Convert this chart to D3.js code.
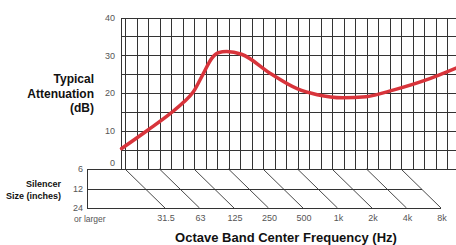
<!DOCTYPE html>
<html>
<head>
<meta charset="utf-8">
<script src="https://cdn.jsdelivr.net/npm/d3@7"></script>
<style>
  body { margin: 0; background: #fff; }
  svg { display: block; font-family: "Liberation Sans", Arial, sans-serif; }
</style>
</head>
<body>
<div id="main"></div>
<script>
var bandLabels = ['31.5', '63', '125', '250', '500', '1k', '2k', '4k', '8k'];
var dbTicks = [0, 10, 20, 30, 40];
var dbGrid = [0, 5, 10, 15, 20, 25, 30, 35, 40];
var sizeLabels = ['6', '12', '24'];
// red curve (Hz, dB)
var curveHz = [29.4, 50, 78, 102, 124, 152, 180, 205, 243, 327, 600, 1000, 1500, 2500, 4000, 7000, 13000, 25000];
var curveDb = [5.4, 10.3, 14.6, 17.6, 20.3, 25.2, 29.2, 30.7, 31, 30.3, 25, 21.2, 19.6, 18.8, 19.1, 20.9, 23.4, 26.8];

var width = 456, height = 245;
var plot = {left: 121, top: 17.5, right: 460, bottom: 169};
var table = {left: 87, rows: [169, 189, 208], slant: 40};

var svg = d3.select('#main').append('svg')
    .attr('width', width)
    .attr('height', height);

var x = d3.scaleLog().base(2)
    .domain([31.5, 31.5 * 256])
    .range([125, 401]);
var y = d3.scaleLinear()
    .domain([0, 40])
    .range([plot.bottom, plot.top]);

var gridColor = '#333';
var bandHz = bandLabels.map((d, i) => 31.5 * Math.pow(2, i));
var thirdHz = d3.range(0, 29).map(k => 31.5 * Math.pow(2, k / 3));

var grid = svg.append('g').attr('class', 'grid')
    .attr('stroke', gridColor)
    .attr('stroke-width', 1)
    .attr('shape-rendering', 'crispEdges');

grid.selectAll('line.v')
    .data(thirdHz)
    .enter().append('line')
    .attr('class', 'v')
    .attr('x1', d => Math.round(x(d)) + 0.5)
    .attr('x2', d => Math.round(x(d)) + 0.5)
    .attr('y1', plot.top)
    .attr('y2', plot.bottom);

grid.append('line')
    .attr('x1', plot.left + 0.5).attr('x2', plot.left + 0.5)
    .attr('y1', plot.top).attr('y2', plot.bottom);

grid.selectAll('line.h')
    .data(dbGrid)
    .enter().append('line')
    .attr('class', 'h')
    .attr('x1', d => d === 0 ? table.left : plot.left)
    .attr('x2', plot.right)
    .attr('y1', d => Math.round(y(d)) + 0.5)
    .attr('y2', d => Math.round(y(d)) + 0.5);

// silencer size table
var tbl = svg.append('g').attr('class', 'table')
    .attr('stroke', gridColor)
    .attr('stroke-width', 1);

tbl.append('line')
    .attr('x1', table.left + 0.5).attr('x2', table.left + 0.5)
    .attr('y1', table.rows[0]).attr('y2', table.rows[2])
    .attr('shape-rendering', 'crispEdges');

var lastBand = x(bandHz[bandHz.length - 1]);
var rowSpan = table.rows[2] - table.rows[0];
tbl.selectAll('line.row')
    .data(table.rows.slice(1))
    .enter().append('line')
    .attr('class', 'row')
    .attr('shape-rendering', 'crispEdges')
    .attr('x1', table.left)
    .attr('x2', d => lastBand + table.slant * (d - table.rows[0]) / rowSpan)
    .attr('y1', d => d + 0.5)
    .attr('y2', d => d + 0.5);

tbl.selectAll('line.diag')
    .data(bandHz)
    .enter().append('line')
    .attr('class', 'diag')
    .attr('stroke-width', 0.9)
    .attr('x1', d => x(d))
    .attr('y1', table.rows[0])
    .attr('x2', d => x(d) + table.slant)
    .attr('y2', table.rows[2]);

// curve
var line = d3.line()
    .x((d, i) => x(curveHz[i]))
    .y(d => y(d))
    .curve(d3.curveMonotoneX);

svg.append('path')
    .datum(curveDb)
    .attr('d', line)
    .attr('fill', 'none')
    .attr('stroke', '#d8343b')
    .attr('stroke-width', 3.5)
    .attr('stroke-linecap', 'round')
    .attr('stroke-linejoin', 'round');

// tick labels
var tickColor = '#555';
svg.selectAll('text.db')
    .data(dbTicks)
    .enter().append('text')
    .attr('class', 'db')
    .attr('x', 115)
    .attr('y', d => d === 0 ? y(d) - 6 : y(d))
    .attr('dy', '0.35em')
    .attr('text-anchor', 'end')
    .attr('font-size', 9)
    .attr('fill', tickColor)
    .text(d => d);

svg.selectAll('text.size')
    .data(sizeLabels)
    .enter().append('text')
    .attr('class', 'size')
    .attr('x', 83)
    .attr('y', (d, i) => table.rows[i])
    .attr('dy', '0.35em')
    .attr('text-anchor', 'end')
    .attr('font-size', 9)
    .attr('fill', tickColor)
    .text(d => d);

svg.append('text')
    .attr('x', 74)
    .attr('y', 219)
    .attr('dy', '0.35em')
    .attr('font-size', 8.5)
    .attr('fill', tickColor)
    .text('or larger');

svg.selectAll('text.band')
    .data(bandLabels)
    .enter().append('text')
    .attr('class', 'band')
    .attr('x', (d, i) => x(bandHz[i]) + table.slant + 1)
    .attr('y', 217.5)
    .attr('dy', '0.35em')
    .attr('text-anchor', 'middle')
    .attr('font-size', 9)
    .attr('fill', tickColor)
    .text(d => d);

// axis titles
svg.append('text')
    .attr('text-anchor', 'end')
    .attr('font-size', 12)
    .attr('font-weight', 'bold')
    .attr('fill', '#111')
    .selectAll('tspan')
    .data(['Typical', 'Attenuation', '(dB)'])
    .enter().append('tspan')
    .attr('x', 94)
    .attr('y', (d, i) => 83 + i * 14.5)
    .text(d => d);

svg.append('text')
    .attr('text-anchor', 'end')
    .attr('font-size', 9)
    .attr('font-weight', 'bold')
    .attr('fill', '#111')
    .selectAll('tspan')
    .data(['Silencer', 'Size (inches)'])
    .enter().append('tspan')
    .attr('x', 61)
    .attr('y', (d, i) => 187 + i * 12)
    .text(d => d);

svg.append('text')
    .attr('x', 286)
    .attr('y', 241.5)
    .attr('text-anchor', 'middle')
    .attr('font-size', 13)
    .attr('font-weight', 'bold')
    .attr('fill', '#111')
    .text('Octave Band Center Frequency (Hz)');
</script>
</body>
</html>
